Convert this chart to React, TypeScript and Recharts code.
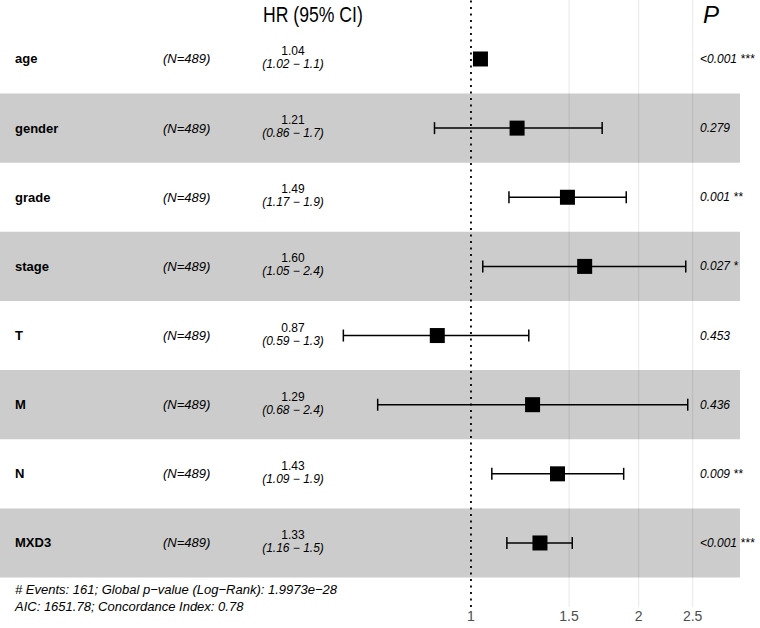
import {
  ComposedChart,
  ErrorBar,
  ReferenceArea,
  ReferenceLine,
  Scatter,
  XAxis,
  YAxis,
} from "recharts";

// variables, top to bottom
const variables = ["age", "gender", "grade", "stage", "T", "M", "N", "MXD3"];
const counts = ["(N=489)", "(N=489)", "(N=489)", "(N=489)", "(N=489)", "(N=489)", "(N=489)", "(N=489)"];
const hazard = [1.04, 1.21, 1.49, 1.6, 0.87, 1.29, 1.43, 1.33];
const lower = [1.02, 0.86, 1.17, 1.05, 0.59, 0.68, 1.09, 1.16];
const upper = [1.055, 1.72, 1.9, 2.43, 1.27, 2.45, 1.88, 1.52];
const hrText = ["1.04", "1.21", "1.49", "1.60", "0.87", "1.29", "1.43", "1.33"];
const ciText = [
  "(1.02 − 1.1)",
  "(0.86 − 1.7)",
  "(1.17 − 1.9)",
  "(1.05 − 2.4)",
  "(0.59 − 1.3)",
  "(0.68 − 2.4)",
  "(1.09 − 1.9)",
  "(1.16 − 1.5)",
];
const pText = ["<0.001 ***", "0.279", "0.001 **", "0.027 *", "0.453", "0.436", "0.009 **", "<0.001 ***"];
const xTicks = [1, 1.5, 2, 2.5];
const footer = [
  "# Events: 161; Global p−value (Log−Rank): 1.9973e−28",
  "AIC: 1651.78; Concordance Index: 0.78",
];

const X_MIN = 0.1427;
const X_MAX = 3.303;
const BAND_END = 3.041;
const FONT = "'Liberation Sans', Arial, Helvetica, sans-serif";

const rows = variables.map((name, i) => ({
  row: i,
  name,
  n: counts[i],
  hr: hazard[i],
  err: [hazard[i] - lower[i], upper[i] - hazard[i]],
  hrText: hrText[i],
  ciText: ciText[i],
  p: pText[i],
  at: 1,
}));

function SquareMark(props: any) {
  const { cx, cy } = props;
  return <rect x={cx - 7.5} y={cy - 7.5} width={15} height={15} fill="#000" />;
}

function RowText(props: any) {
  const { cy, payload } = props;
  return (
    <g fontFamily={FONT} fill="#000">
      <text x={15} y={cy} dominantBaseline="central" fontWeight="bold" fontSize={13}>
        {payload.name}
      </text>
      <text x={163} y={cy} dominantBaseline="central" fontStyle="italic" fontSize={13}>
        {payload.n}
      </text>
      <text x={293} y={cy - 8} dominantBaseline="central" textAnchor="middle" fontSize={12}>
        {payload.hrText}
      </text>
      <text x={293} y={cy + 5} dominantBaseline="central" textAnchor="middle" fontStyle="italic" fontSize={12}>
        {payload.ciText}
      </text>
      <text x={700} y={cy} dominantBaseline="central" fontStyle="italic" fontSize={12}>
        {payload.p}
      </text>
    </g>
  );
}

export default function App() {
  return (
    <div
      style={{
        position: "absolute",
        left: 0,
        top: 0,
        width: 760,
        height: 628,
        background: "#fff",
        fontFamily: FONT,
      }}
    >
      <ComposedChart width={760} height={628} data={rows} margin={{ top: 0, right: 0, left: 0, bottom: 0 }}>
        <XAxis
          type="number"
          dataKey="hr"
          scale="log"
          domain={[X_MIN, X_MAX]}
          allowDataOverflow
          ticks={xTicks}
          axisLine={false}
          tickLine={false}
          tickSize={2}
          tickMargin={2}
          height={21}
          tick={{ fill: "#4d4d4d", fontSize: 14, fontFamily: FONT }}
          tickFormatter={(v: number) => String(v)}
        />
        <YAxis type="number" dataKey="row" domain={[-0.853, 7.926]} allowDataOverflow reversed hide />
        {rows
          .filter((r) => r.row % 2 === 1)
          .map((r) => (
            <ReferenceArea
              key={r.name}
              x1={X_MIN}
              x2={BAND_END}
              y1={r.row - 0.5}
              y2={r.row + 0.5}
              fill="#cccccc"
              fillOpacity={1}
              stroke="none"
              ifOverflow="visible"
            />
          ))}
        {xTicks.slice(1).map((t) => (
          <ReferenceLine key={t} x={t} stroke="rgba(0,0,0,0.08)" strokeWidth={1.2} />
        ))}
        <ReferenceLine x={1} stroke="#000" strokeWidth={1.8} strokeDasharray="2 4.5" />
        <Scatter data={rows} dataKey="row" shape={SquareMark} isAnimationActive={false}>
          <ErrorBar dataKey="err" direction="x" width={6} stroke="#000" strokeWidth={1.5} isAnimationActive={false} />
        </Scatter>
        <Scatter data={rows.map((r) => ({ ...r, hr: r.at }))} dataKey="row" shape={RowText} isAnimationActive={false} />
      </ComposedChart>
      <div
        style={{
          position: "absolute",
          left: 263,
          top: 2,
          fontSize: 22,
          lineHeight: "26px",
          whiteSpace: "nowrap",
          transform: "scaleX(0.8)",
          transformOrigin: "left center",
        }}
      >
        HR (95% CI)
      </div>
      <div style={{ position: "absolute", left: 703, top: 1, fontSize: 24, lineHeight: "28px", fontStyle: "italic" }}>
        P
      </div>
      <div
        style={{
          position: "absolute",
          left: 15,
          top: 581,
          fontSize: 13,
          lineHeight: "17px",
          fontStyle: "italic",
          whiteSpace: "nowrap",
        }}
      >
        {footer.map((line) => (
          <div key={line}>{line}</div>
        ))}
      </div>
    </div>
  );
}
